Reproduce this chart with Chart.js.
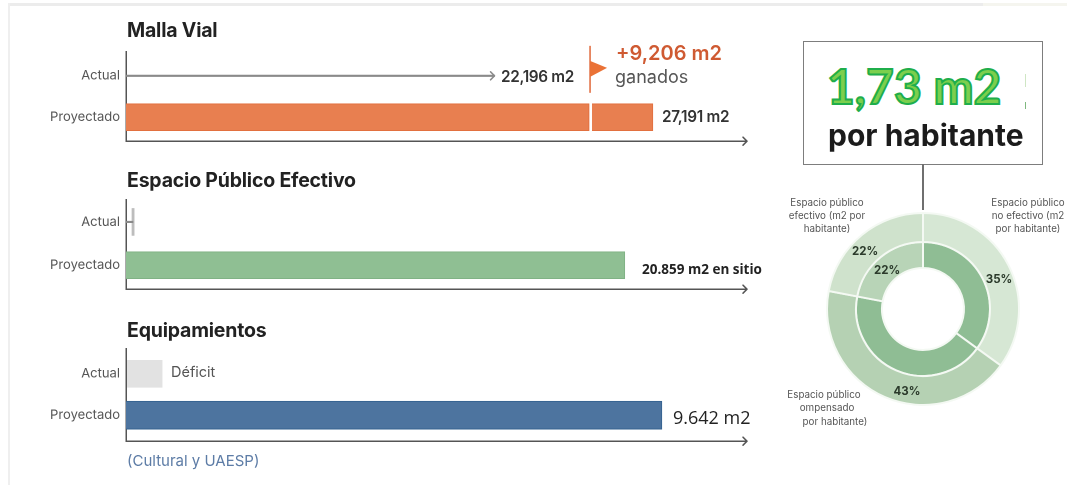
<!DOCTYPE html>
<html lang="es"><head><meta charset="utf-8">
<script src="https://cdn.jsdelivr.net/npm/chart.js@4"></script>
<style>
html,body{margin:0;padding:0;background:#fff;width:1067px;height:485px;overflow:hidden;font-family:Inter,"Liberation Sans",sans-serif}
#stage{position:relative;width:1067px;height:485px;overflow:hidden}
canvas{position:absolute;display:block;filter:blur(0.45px)}
.t{position:absolute;white-space:nowrap;line-height:1}
.soft{filter:blur(0.4px)}
.deco{position:absolute}
</style></head><body><div id="stage">
<div class="deco" style="left:8px;top:3px;width:975px;height:3px;background:#ececec"></div>
<div class="deco" style="left:983px;top:3px;width:84px;height:3px;background:#f5f5ef"></div>
<div class="deco" style="left:8px;top:3px;width:2px;height:482px;background:#efefef"></div>
<div class="deco" style="left:803px;top:41px;width:238px;height:122px;border:1.5px solid #7d7d7d"></div>
<div class="deco" style="left:922px;top:164px;width:2px;height:46px;background:#6f6f6f"></div>
<div class="deco" style="left:1024.5px;top:74px;width:1.5px;height:13px;background:#cfe6c4"></div>
<div class="deco" style="left:1024.5px;top:102px;width:1.5px;height:7px;background:#7fb87f"></div>
</div>
<script>
// ---------- data ----------
const rowLabels = ['Actual', 'Proyectado'];
const mallaActualArrow = 19020;
const mallaProyectado = 27191;
const mallaFlag = 23950;
const mallaAxisMax = 32050;
const espacioActual = 290;
const espacioProyectado = 20859;
const espacioAxisMax = 25970;
const equipDeficit = 650;
const equipProyectado = 9642;
const equipAxisMax = 11174;
const ringLabels = ['Espacio público no efectivo', 'Espacio público compensado', 'Espacio público efectivo'];
const ringOuter = [35, 43, 22];
const ringInner = [35, 43, 22];
const titles = ['Malla Vial', 'Espacio Público Efectivo', 'Equipamientos'];
const valueTexts = ['22,196 m2', '27,191 m2', '+9,206 m2', 'ganados', '20.859 m2 en sitio', 'Déficit', '9.642 m2', '(Cultural y UAESP)'];
const headline = ['1,73 m2', 'por habitante'];

// ---------- helpers ----------
const stage = document.getElementById('stage');
function text(str, x, y, css, align, crisp) {
  const d = document.createElement('div');
  d.className = crisp ? 't' : 't soft';
  d.textContent = str;
  const tx = align === 'center' ? '-50%' : align === 'right' ? '-100%' : '0';
  d.style.cssText = `left:${x}px;top:${y}px;transform:translate(${tx},-50%);` + css;
  stage.appendChild(d);
  return d;
}
function chevron(ctx, x, y, color, lw) {
  ctx.save();
  ctx.strokeStyle = color; ctx.lineWidth = lw; ctx.lineCap = 'round'; ctx.lineJoin = 'round';
  ctx.beginPath(); ctx.moveTo(x - 4, y - 4); ctx.lineTo(x, y); ctx.lineTo(x - 4, y + 4); ctx.stroke();
  ctx.restore();
}
const AXIS = '#555555';
const arrowPlugin = { id: 'axisArrow', afterDraw(c) {
  const a = c.chartArea;
  chevron(c.ctx, a.right, a.bottom, AXIS, 1.5);
}};
function panel(p) {
  const pad = 12;
  const cv = document.createElement('canvas');
  cv.style.left = '0px'; cv.style.top = (p.top - pad + 1) + 'px';
  cv.width = 770; cv.height = p.bottom - p.top + pad * 2;
  cv.style.width = '770px'; cv.style.height = cv.height + 'px';
  stage.appendChild(cv);
  const s = p.rows[1] - p.rows[0];
  p.datasets.forEach(d => { d.grouped = false; });
  return new Chart(cv, {
    type: 'bar',
    data: { datasets: p.datasets },
    options: {
      indexAxis: 'y', responsive: false, animation: false, devicePixelRatio: 2,
      layout: { padding: { top: pad, bottom: pad, right: 23, left: 0 } },
      plugins: { legend: { display: false }, tooltip: { enabled: false } },
      scales: {
        x: { type: 'linear', min: 0, max: p.max, stacked: false,
             ticks: { display: false }, grid: { display: false, drawTicks: false },
             border: { display: true, color: AXIS, width: 1.5 },
             afterFit(sc) { sc.height = 0; } },
        y: { type: 'linear', reverse: true, offset: false,
             min: -(p.rows[0] - p.top) / s, max: 1 + (p.bottom - p.rows[1]) / s,
             afterBuildTicks(sc) { sc.ticks = [{ value: 0 }, { value: 1 }]; },
             afterFit(sc) { sc.width = 126; },
             ticks: { callback: v => rowLabels[v], autoSkip: false, padding: 6, color: '#555',
                      font: { family: 'Inter', size: 13 } },
             grid: { display: false, drawTicks: false },
             border: { display: true, color: AXIS, width: 1.5 } }
      }
    },
    plugins: [arrowPlugin].concat(p.plugins || [])
  });
}
const ORANGE = '#e87f50', ORANGE_D = '#e2703f';

// ---------- Malla Vial ----------
panel({
  top: 49, bottom: 142, rows: [74, 117], max: mallaAxisMax,
  datasets: [
    { data: [{ x: mallaActualArrow, y: 0 }], backgroundColor: '#8a8a8a', barThickness: 1.5 },
    { data: [{ x: [0, mallaFlag - 50], y: 1 }], backgroundColor: ORANGE, borderColor: ORANGE_D, borderWidth: 1, barThickness: 27 },
    { data: [{ x: [mallaFlag + 100, mallaProyectado], y: 1 }], backgroundColor: ORANGE, borderColor: ORANGE_D, borderWidth: 1, barThickness: 27 }
  ],
  plugins: [{ id: 'mallaMarks', afterDraw(c) {
    const ctx = c.ctx, x = c.scales.x, y = c.scales.y;
    const fx = x.getPixelForValue(mallaFlag), ry = y.getPixelForValue(0);
    chevron(ctx, x.getPixelForValue(mallaActualArrow), ry, '#8a8a8a', 1.5);
    ctx.save();
    ctx.strokeStyle = '#e0683a'; ctx.lineWidth = 1.5;
    ctx.beginPath(); ctx.moveTo(fx, ry - 30); ctx.lineTo(fx, ry + 17); ctx.stroke();
    ctx.fillStyle = '#ea7236';
    ctx.beginPath(); ctx.moveTo(fx, ry - 15); ctx.lineTo(fx + 17, ry - 8); ctx.lineTo(fx, ry + 1); ctx.closePath(); ctx.fill();
    ctx.restore();
  }}]
});

// ---------- Espacio Público Efectivo ----------
panel({
  top: 197, bottom: 290, rows: [220, 265], max: espacioAxisMax,
  datasets: [
    { data: [{ x: espacioActual, y: 0 }], backgroundColor: '#8a8a8a', barThickness: 1.5 },
    { data: [{ x: [espacioActual - 40, espacioActual + 50], y: 0 }], backgroundColor: '#bdbdbd', barThickness: 27 },
    { data: [{ x: espacioProyectado, y: 1 }], backgroundColor: '#8fbf93', borderColor: '#80b285', borderWidth: 1, barThickness: 27 }
  ]
});

// ---------- Equipamientos ----------
panel({
  top: 346, bottom: 442, rows: [372, 415], max: equipAxisMax,
  datasets: [
    { data: [{ x: [25, equipDeficit], y: 0 }], backgroundColor: '#e2e2e2', barThickness: 27 },
    { data: [{ x: equipProyectado, y: 1 }], backgroundColor: '#4d749f', borderColor: '#356290', borderWidth: 1, barThickness: 28 }
  ]
});

// ---------- Doughnut ----------
const dc = document.createElement('canvas');
dc.width = 194; dc.height = 194;
dc.style.cssText = 'left:826px;top:212px;width:194px;height:194px';
stage.appendChild(dc);
new Chart(dc, {
  type: 'doughnut',
  data: { labels: ringLabels, datasets: [
    { data: ringOuter, weight: 29, backgroundColor: ['#d6e7d4', '#b5d1b3', '#cfe2cc'], borderColor: '#f4f9f3', borderWidth: 2 },
    { data: ringInner, weight: 26, backgroundColor: ['#8fbd94', '#8fbd94', '#b8d4b7'], borderColor: '#f4f9f3', borderWidth: 2 }
  ]},
  options: { responsive: false, animation: false, devicePixelRatio: 2, cutout: '42.7%',
    plugins: { legend: { display: false }, tooltip: { enabled: false } } }
});

// ---------- Text ----------
const titleCss = 'font-size:19.5px;font-weight:700;color:#222;letter-spacing:-0.2px;';
text(titles[0], 127, 31, titleCss);
text(titles[1], 127, 181, titleCss);
text(titles[2], 127, 331, titleCss);
const valCss = 'font-size:15.3px;font-weight:600;color:#333;letter-spacing:-0.3px;';
text(valueTexts[0], 501, 77, valCss);
text(valueTexts[1], 662, 117, valCss);
text(valueTexts[2], 616, 53, 'font-size:20px;font-weight:600;color:#cf5a32;');
text(valueTexts[3], 615, 77, 'font-size:18px;color:#555;');
text(valueTexts[4], 642, 270, 'font-family:"Open Sans";font-size:13.5px;font-weight:700;color:#222;', null, true);
text(valueTexts[5], 171, 372, 'font-size:14.5px;color:#555;');
text(valueTexts[6], 673, 417, 'font-family:"Open Sans";font-size:18px;color:#222;', null, true);
text(valueTexts[7], 127, 460, 'font-size:15px;color:#5d7ca6;');

text(headline[0], 827, 86, 'font-family:Lato;font-size:48px;font-weight:700;color:#7ccf4d;-webkit-text-stroke:2px #1fae4b;', null, true);
text(headline[1], 828, 135, 'font-size:30px;font-weight:700;color:#1b1b1b;');

const ringCss = 'font-size:9.8px;color:#555;text-align:center;';
[['Espacio público', 827, 203], ['efectivo (m2 por', 827, 216], ['habitante)', 827, 229],
 ['Espacio público', 1028, 203], ['no efectivo (m2', 1028, 216], ['por habitante)', 1028, 229],
 ['Espacio público', 824, 395], ['ompensado', 827, 408], ['por habitante)', 835, 422]
].forEach(l => text(l[0], l[1], l[2], ringCss, 'center'));

const pctCss = 'font-size:11.5px;font-weight:700;color:#2b3a2b;';
text(ringOuter[0] + '%', 999, 280, pctCss, 'center');
text(ringOuter[2] + '%', 865, 252, pctCss, 'center');
text(ringInner[2] + '%', 887, 271, pctCss, 'center');
text(ringOuter[1] + '%', 907, 392, pctCss, 'center');
</script></body></html>
